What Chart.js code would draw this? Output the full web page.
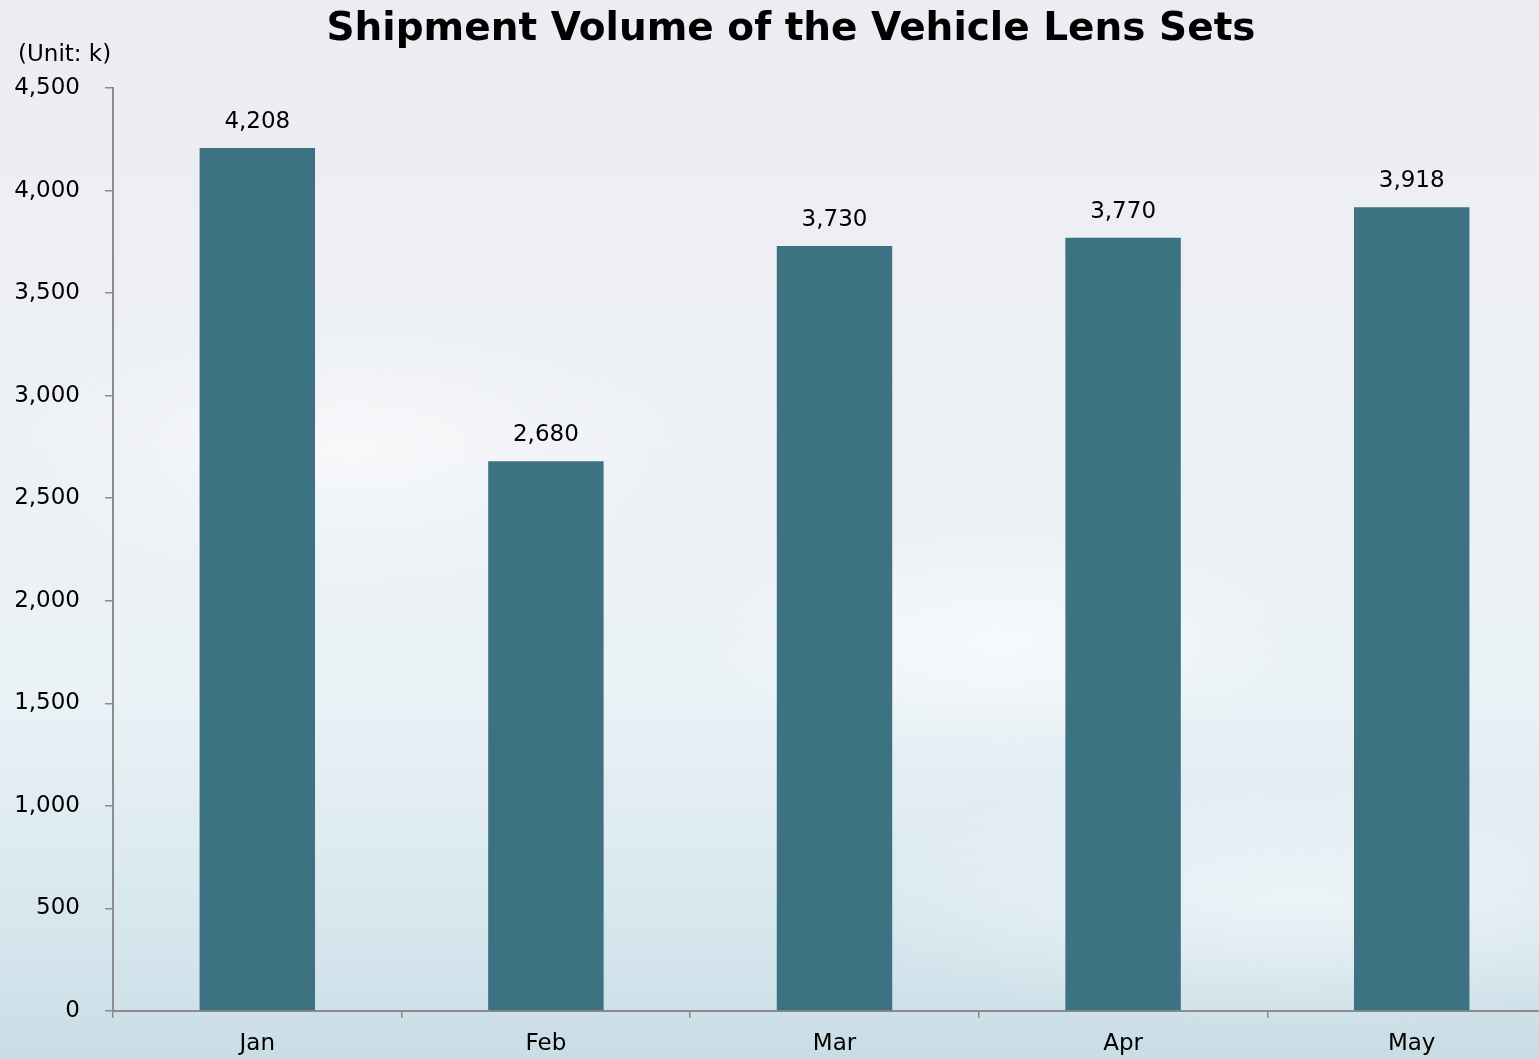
<!DOCTYPE html>
<html>
<head>
<meta charset="utf-8">
<script src="https://cdn.jsdelivr.net/npm/chart.js@4/dist/chart.umd.min.js"></script>
<style>
    html, body {
        margin: 0;
        padding: 0;
        overflow: hidden;
    }
    body {
        width: 1539px;
        height: 1059px;
        background:
            radial-gradient(ellipse 420px 160px at 1000px 640px, rgba(255,255,255,0.6), rgba(255,255,255,0) 70%),
            radial-gradient(ellipse 500px 200px at 350px 450px, rgba(255,255,255,0.55), rgba(255,255,255,0) 70%),
            radial-gradient(ellipse 700px 180px at 1300px 900px, rgba(255,255,255,0.5), rgba(255,255,255,0) 70%),
            linear-gradient(to bottom, #ecedf2 0%, #edf0f4 40%, #eaf2f6 65%, #d9e8ef 85%, #c9dde6 100%);
    }
    #wrap {
        position: absolute;
        left: 0;
        top: 0;
        width: 1556px;
        height: 1059px;
    }
</style>
</head>
<body>
<div id="wrap"><canvas id="myChart"></canvas></div>
<script>
const months = ['Jan', 'Feb', 'Mar', 'Apr', 'May'];
const shipments = [4208, 2680, 3730, 3770, 3918];
const yTicks = [0, 500, 1000, 1500, 2000, 2500, 3000, 3500, 4000, 4500];

const chartTitle = 'Shipment Volume of the Vehicle Lens Sets';
const unitLabel = '(Unit: k)';

const fontFamily = '"DejaVu Sans", sans-serif';
const axisColor = '#8c8c8c';

// title, unit text and the value above each bar
const textPlugin = {
    id: 'textPlugin',
    afterDatasetsDraw(chart) {
        let ctx = chart.ctx;
        ctx.save();
        ctx.fillStyle = '#000';
        ctx.textBaseline = 'middle';

        ctx.textAlign = 'center';
        ctx.font = 'bold 39px ' + fontFamily;
        ctx.fillText(chartTitle, 791, 30);

        ctx.textAlign = 'left';
        ctx.font = '23px ' + fontFamily;
        ctx.fillText(unitLabel, 18, 55);

        ctx.font = '23px ' + fontFamily;
        ctx.textAlign = 'center';
        let meta = chart.getDatasetMeta(0);
        meta.data.forEach((bar, i) => {
            ctx.fillText(shipments[i].toLocaleString('en-US'), bar.x, bar.y - 26);
        });
        ctx.restore();
    }
};

let ctx = document.getElementById('myChart').getContext('2d');
let myChart = new Chart(ctx, {
    type: 'bar',
    data: {
        labels: months,
        datasets: [{
            data: shipments,
            backgroundColor: '#3d7282',
            borderWidth: 0,
            barPercentage: 0.4,
            categoryPercentage: 1
        }]
    },
    options: {
        responsive: true,
        maintainAspectRatio: false,
        animation: false,
        layout: {
            padding: { top: 88, left: 0, right: 0, bottom: 0 }
        },
        plugins: {
            legend: { display: false },
            tooltip: { enabled: false },
            title: { display: false }
        },
        scales: {
            x: {
                offset: true,
                grid: {
                    offset: true,
                    drawOnChartArea: false,
                    drawTicks: true,
                    tickLength: 7,
                    color: axisColor,
                    lineWidth: 1.5
                },
                border: { display: true, color: axisColor, width: 2 },
                ticks: {
                    color: '#000',
                    font: { family: fontFamily, size: 23 },
                    padding: 12,
                    maxRotation: 0
                },
                afterFit(scale) {
                    scale.height = 48;
                }
            },
            y: {
                min: 0,
                max: 4500,
                afterBuildTicks(scale) {
                    scale.ticks = yTicks.map(v => ({ value: v }));
                },
                grid: {
                    drawOnChartArea: false,
                    drawTicks: true,
                    tickLength: 8,
                    color: axisColor,
                    lineWidth: 1.5
                },
                border: { display: true, color: axisColor, width: 2 },
                ticks: {
                    color: '#000',
                    font: { family: fontFamily, size: 23 },
                    padding: 25,
                    callback: v => v.toLocaleString('en-US')
                },
                afterFit(scale) {
                    scale.width = 113;
                }
            }
        }
    },
    plugins: [textPlugin]
});
</script>
</body>
</html>
